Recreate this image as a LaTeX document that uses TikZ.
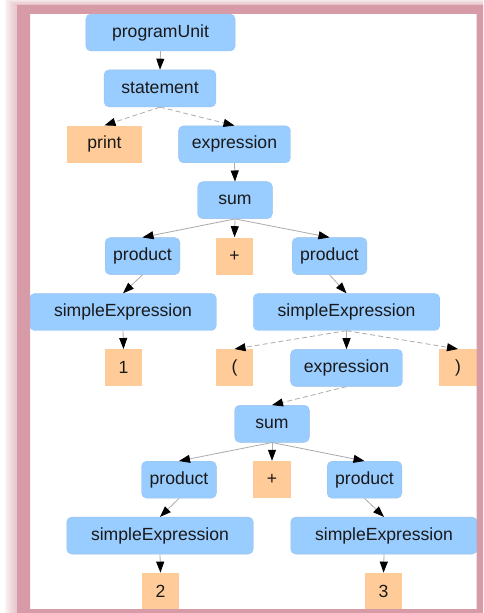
\documentclass[tikz,border=0pt]{standalone}
\usepackage{fontspec}
\setmainfont{Liberation Sans}
\usepackage{tikz}
\usetikzlibrary{arrows.meta}

\definecolor{ntblue}{RGB}{153,204,255}
\definecolor{torange}{RGB}{255,204,153}
\definecolor{framepink}{RGB}{214,155,166}
\definecolor{inktext}{RGB}{25,25,25}

\begin{document}
\begin{tikzpicture}[x=0.5pt,y=-0.5pt,
    cells/.style={minimum width=#1*18.65pt},
    nt/.style={draw=ntblue!85!gray,line width=0.2pt,fill=ntblue,rounded corners=2.5pt,
      minimum height=18.5pt,inner sep=0pt,text=inktext,font=\fontsize{8.8}{10}\selectfont},
    tm/.style={fill=torange,minimum width=18.65pt,minimum height=18.5pt,inner sep=0pt,
      text=inktext,font=\fontsize{8.8}{10}\selectfont},
    link/.style={draw=gray!65,line width=0.4pt,-{Triangle[length=5.5pt,width=4pt,color=black]}},
    dlink/.style={link,dash pattern=on 2.5pt off 1.5pt}]
  \useasboundingbox (0,0) rectangle (483,613);
  % soft glow and page
  \foreach \g in {1,...,6}
    \fill[framepink,opacity=0.12] ({17-2*\g},{5-\g}) rectangle (483,613);
  \fill[white] (30,14) rectangle (476.5,609);

  % the tree, row by row
  \node[nt,cells=4] (pu)    at (160.5,32.5)  {programUnit};
  \node[nt,cells=3] (stmt)  at (160,88.4)    {statement};
  \node[tm,cells=2] (print) at (104.5,144.3) {print};
  \node[nt,cells=3] (expr)  at (234.5,144.3) {expression};
  \node[nt,cells=2] (sum)   at (235,200.2)   {sum};
  \node[nt,cells=2] (prodA) at (142.5,256.1) {product};
  \node[tm]         (plus)  at (234.5,256.1) {+};
  \node[nt,cells=2] (prodB) at (329.5,256.1) {product};
  \node[nt,cells=5] (seA)   at (123,312)     {simpleExpression};
  \node[nt,cells=5] (seB)   at (346.5,312)   {simpleExpression};
  \node[tm]         (one)   at (123.5,367.9) {1};
  \node[tm]         (lpar)  at (234.5,367.9) {(};
  \node[nt,cells=3] (expr2) at (346.5,367.9) {expression};
  \node[tm]         (rpar)  at (458,367.9)   {)};
  \node[nt,cells=2] (sum2)  at (272,423.8)   {sum};
  \node[nt,cells=2] (prodC) at (179,479.7)   {product};
  \node[tm]         (plus2) at (272,479.7)   {+};
  \node[nt,cells=2] (prodD) at (364.5,479.7) {product};
  \node[nt,cells=5] (seC)   at (160,535.6)   {simpleExpression};
  \node[nt,cells=5] (seD)   at (384,535.6)   {simpleExpression};
  \node[tm]         (two)   at (160.5,591.5) {2};
  \node[tm]         (three) at (383.5,591.5) {3};

  \path
    (pu.south)    edge[link]  (stmt.north)
    (stmt.south)  edge[dlink] (print.north)
                  edge[dlink] (expr.north)
    (expr.south)  edge[link]  (sum.north)
    (sum.south)   edge[link]  (prodA.north)
                  edge[link]  (plus.north)
                  edge[link]  (prodB.north)
    (prodA.south) edge[link]  (seA.north)
    (prodB.south) edge[link]  (seB.north)
    (seA.south)   edge[link]  (one.north)
    (seB.south)   edge[dlink] (lpar.north)
                  edge[link]  (expr2.north)
                  edge[dlink] (rpar.north)
    (expr2.south) edge[dlink] (sum2.north)
    (sum2.south)  edge[link]  (prodC.north)
                  edge[link]  (plus2.north)
                  edge[link]  (prodD.north)
    (prodC.south) edge[link]  (seC.north)
    (prodD.south) edge[link]  (seD.north)
    (seC.south)   edge[link]  (two.north)
    (seD.south)   edge[link]  (three.north)
  ;

  % pink frame over everything
  \fill[framepink,even odd rule] (17,5) rectangle (483,613) (30,14) rectangle (476.5,609);
\end{tikzpicture}
\end{document}
